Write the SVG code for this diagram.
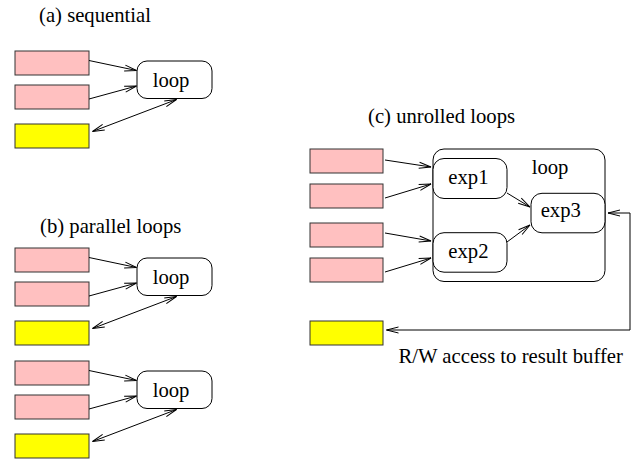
<svg xmlns="http://www.w3.org/2000/svg" width="637" height="463" viewBox="0 0 637 463">
  <style>
    .lbl { font-family: "Liberation Serif", "Times New Roman", serif; font-size: 20.7px; fill: #000; }
    .pink { fill: #ffc0c0; stroke: #333; stroke-width: 1; }
    .yel { fill: #ffff00; stroke: #333; stroke-width: 1; }
    .node { fill: #fff; stroke: #000; stroke-width: 1; }
    .wire { fill: none; stroke: #000; stroke-width: 1; }
    .one { marker-end: url(#arr); }
    .two { marker-start: url(#arr); marker-end: url(#arr); }
  </style>
  <defs>
    <marker id="arr" viewBox="-13 -4 14 8" refX="0" refY="0" markerWidth="14" markerHeight="8" markerUnits="userSpaceOnUse" orient="auto-start-reverse">
      <path d="M-12,-3 L0,0 L-12,3" fill="none" stroke="#000" stroke-width="1"/>
    </marker>
  </defs>
  <rect width="637" height="463" fill="#fff"/>

  <!-- section titles -->
  <text class="lbl" x="39" y="21.5">(a) sequential</text>
  <text class="lbl" x="40" y="232.7">(b) parallel loops</text>
  <text class="lbl" x="368" y="123">(c) unrolled loops</text>

  <!-- (a) sequential -->
  <g id="a-in1"><rect class="pink" x="15" y="51" width="74" height="24"/></g>
  <g id="a-in2"><rect class="pink" x="15" y="85" width="74" height="24"/></g>
  <g id="a-out"><rect class="yel" x="15" y="124" width="74" height="24"/></g>
  <g id="a-loop"><rect class="node" x="137" y="61" width="75" height="37.5" rx="10"/><text class="lbl" x="152.7" y="86.7">loop</text></g>

  <!-- (b) parallel loops, first -->
  <g id="b1-in1"><rect class="pink" x="15" y="248" width="74" height="24"/></g>
  <g id="b1-in2"><rect class="pink" x="15" y="282" width="74" height="24"/></g>
  <g id="b1-out"><rect class="yel" x="15" y="321" width="74" height="24"/></g>
  <g id="b1-loop"><rect class="node" x="137" y="258" width="75" height="37.5" rx="10"/><text class="lbl" x="152.7" y="283.7">loop</text></g>

  <!-- (b) parallel loops, second -->
  <g id="b2-in1"><rect class="pink" x="15" y="361" width="74" height="24"/></g>
  <g id="b2-in2"><rect class="pink" x="15" y="395" width="74" height="24"/></g>
  <g id="b2-out"><rect class="yel" x="15" y="434" width="74" height="24"/></g>
  <g id="b2-loop"><rect class="node" x="137" y="371" width="75" height="37.5" rx="10"/><text class="lbl" x="152.7" y="396.7">loop</text></g>

  <!-- (c) unrolled loops -->
  <g id="c-in1"><rect class="pink" x="310" y="149" width="73" height="24"/></g>
  <g id="c-in2"><rect class="pink" x="310" y="184" width="73" height="24"/></g>
  <g id="c-in3"><rect class="pink" x="310" y="223" width="73" height="24"/></g>
  <g id="c-in4"><rect class="pink" x="310" y="258" width="73" height="24"/></g>
  <g id="c-out"><rect class="yel" x="310" y="321" width="73" height="24"/></g>
  <g id="c-loop"><rect class="node" x="433" y="149" width="172" height="132.5" rx="11"/><text class="lbl" x="531.7" y="174">loop</text></g>
  <g id="c-exp1"><rect class="node" x="433" y="158.5" width="74" height="40" rx="11"/><text class="lbl" x="448.3" y="184.3">exp1</text></g>
  <g id="c-exp2"><rect class="node" x="433" y="232.7" width="74" height="39.5" rx="11"/><text class="lbl" x="448.3" y="258.3">exp2</text></g>
  <g id="c-exp3"><rect class="node" x="531" y="193.3" width="74" height="39.5" rx="11"/><text class="lbl" x="540.7" y="217.3">exp3</text></g>
  <text class="lbl" x="398.5" y="362.5">R/W access to result buffer</text>

  <!-- connectors -->
  <g id="connectors">
    <line class="wire one" x1="89" y1="60.5" x2="136.5" y2="70.5"/>
    <line class="wire one" x1="89" y1="99" x2="136.5" y2="86"/>
    <line class="wire two" x1="92.5" y1="131.5" x2="176.5" y2="99.5"/>

    <line class="wire one" x1="89" y1="257.5" x2="136.5" y2="267.5"/>
    <line class="wire one" x1="89" y1="296" x2="136.5" y2="283"/>
    <line class="wire two" x1="92.5" y1="328.5" x2="176.5" y2="296.5"/>

    <line class="wire one" x1="89" y1="370.5" x2="136.5" y2="380.5"/>
    <line class="wire one" x1="89" y1="409" x2="136.5" y2="396"/>
    <line class="wire two" x1="92.5" y1="441.5" x2="176.5" y2="409.5"/>

    <line class="wire one" x1="385" y1="160" x2="431" y2="167"/>
    <line class="wire one" x1="385" y1="198" x2="431" y2="184"/>
    <line class="wire one" x1="385" y1="233" x2="431" y2="241"/>
    <line class="wire one" x1="385" y1="272" x2="431" y2="258"/>
    <line class="wire one" x1="507" y1="193" x2="530" y2="207"/>
    <line class="wire one" x1="507" y1="242" x2="530" y2="225"/>
    <polyline class="wire two" points="608,213 630,213 630,330 386.5,330"/>
  </g>
</svg>
